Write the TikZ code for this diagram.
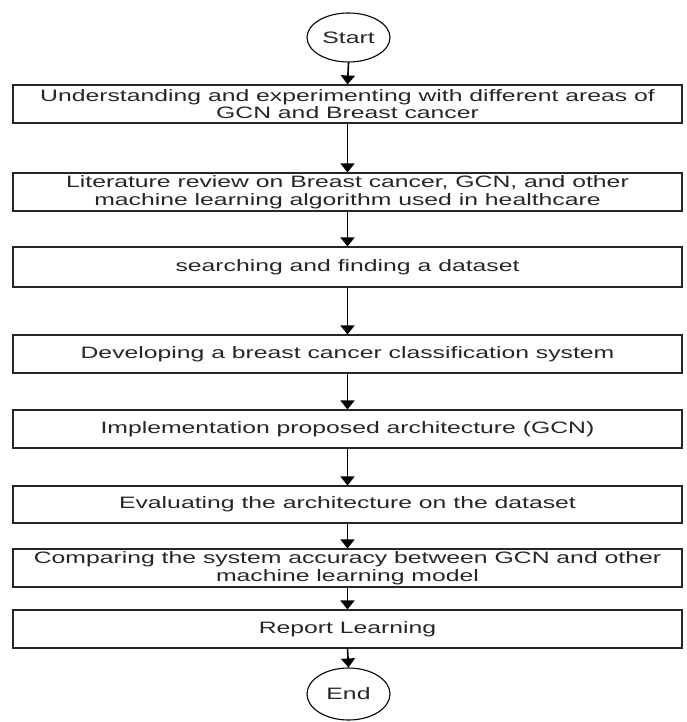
\documentclass[tikz,border=0pt]{standalone}
\usepackage{fontspec}
\setmainfont[FakeStretch=1.5]{Liberation Sans}
\usetikzlibrary{shapes.geometric,arrows.meta}
\begin{document}
\begin{tikzpicture}[x=1pt,y=1pt,
  box/.style={draw=black!85,line width=1.1pt,minimum width=669pt,inner sep=0pt,align=center,
    font=\fontsize{16.5}{17.5}\selectfont,text=black!85},
  term/.style={draw=black,line width=1.1pt,ellipse,inner sep=0pt,minimum width=83pt,
    font=\fontsize{16.5}{17.5}\selectfont,text=black!85},
  arr/.style={line width=1.6pt,-{Triangle[width=14pt,length=9pt]}}]
\useasboundingbox (0,0) rectangle (686,-722);
\node[term,minimum height=49pt] (s) at (348.5,-37.5) {Start};
\node[box,minimum height=38pt] (b1) at (347.5,-104) {Understanding and experimenting with different areas of\\GCN and Breast cancer};
\node[box,minimum height=38pt] (b2) at (347.5,-192) {Literature review on Breast cancer, GCN, and other\\machine learning algorithm used in healthcare};
\node[box,minimum height=40pt] (b3) at (347.5,-267) {searching and finding a dataset};
\node[box,minimum height=38pt] (b4) at (347.5,-354) {Developing a breast cancer classification system};
\node[box,minimum height=38pt] (b5) at (347.5,-429) {Implementation proposed architecture (GCN)};
\node[box,minimum height=37pt] (b6) at (347.5,-504.5) {Evaluating the architecture on the dataset};
\node[box,minimum height=38pt] (b7) at (347.5,-568) {Comparing the system accuracy between GCN and other\\machine learning model};
\node[box,minimum height=38pt] (b8) at (347.5,-629) {Report Learning};
\node[term,minimum height=52pt] (e) at (348.5,-694) {End};
\draw[arr] (s.south) -- (b1.north);
\draw[arr] (b1.south) -- (b2.north);
\draw[arr] (b2.south) -- (b3.north);
\draw[arr] (b3.south) -- (b4.north);
\draw[arr] (b4.south) -- (b5.north);
\draw[arr] (b5.south) -- (b6.north);
\draw[arr] (b6.south) -- (b7.north);
\draw[arr] (b7.south) -- (b8.north);
\draw[arr] (b8.south) -- (e.north);
\end{tikzpicture}
\end{document}
